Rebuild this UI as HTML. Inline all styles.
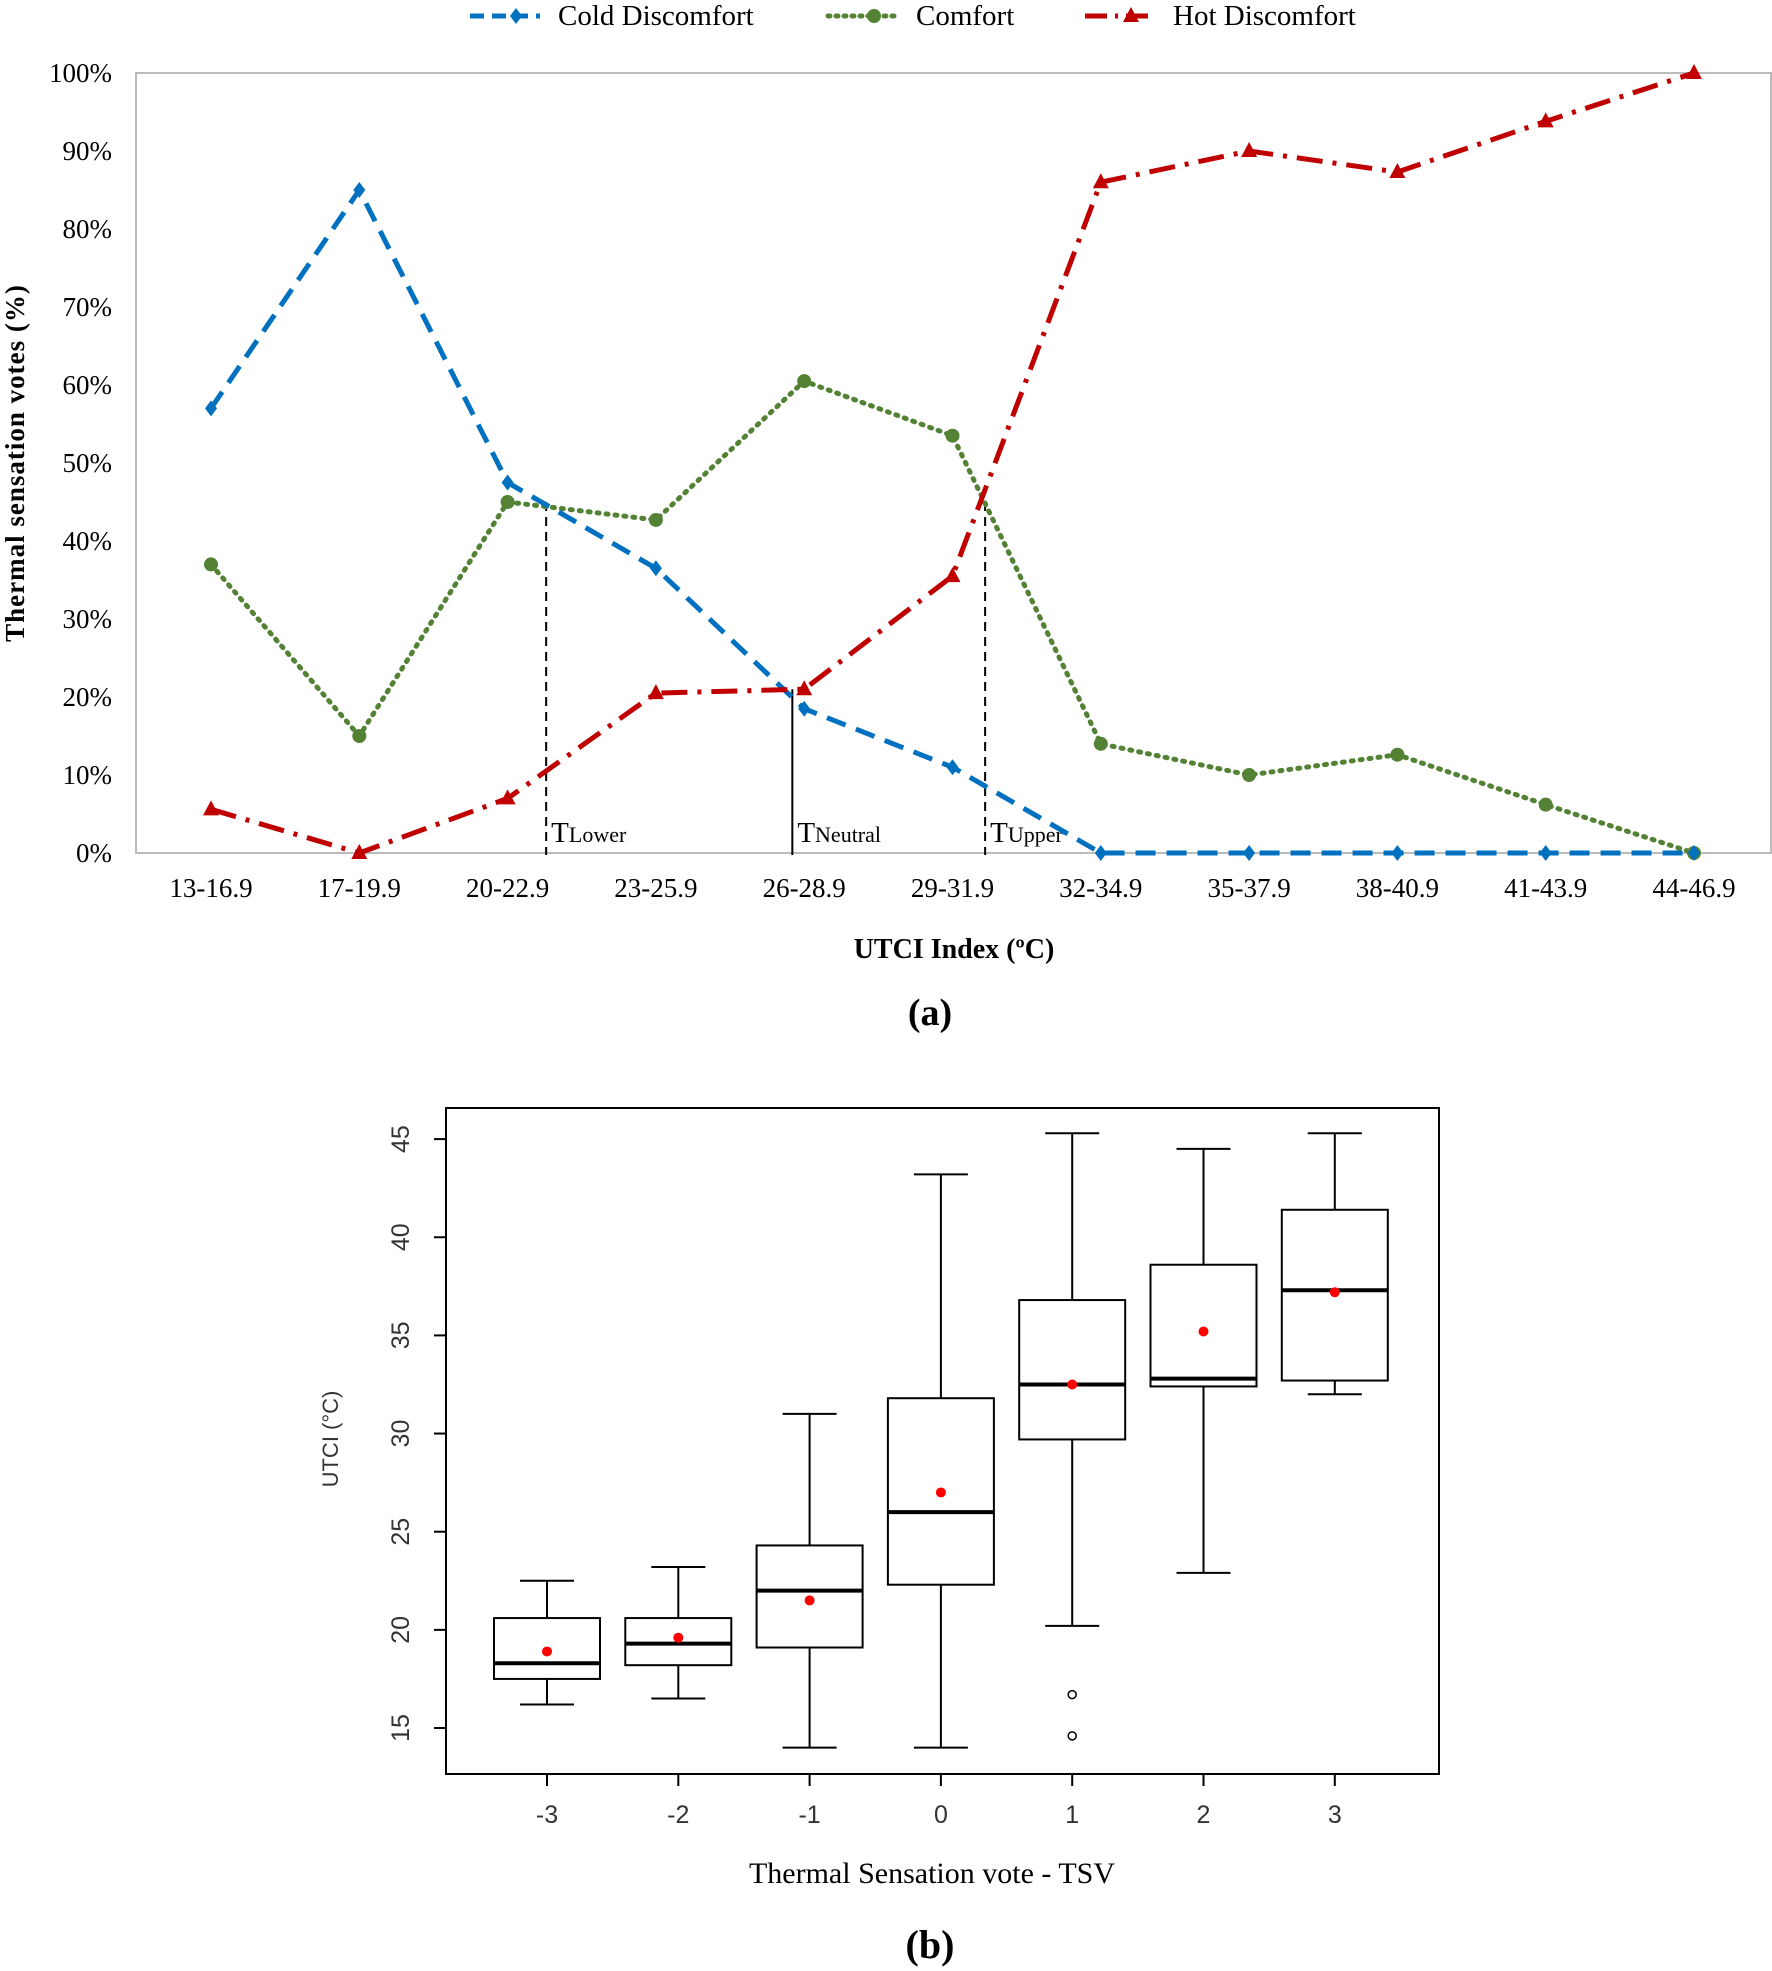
<!DOCTYPE html>
<html><head><meta charset="utf-8"><style>
html,body{margin:0;padding:0;background:#fff;}
svg{display:block;font-family:"Liberation Serif",serif;}
</style></head><body>
<svg id="fig" width="1772" height="1971" viewBox="0 0 1772 1971" xmlns="http://www.w3.org/2000/svg">
<g id="chartA"></g>
<g id="chartB"></g>
</svg>
<script>
// ---- Chart (a) data ----
const catsA = ["13-16.9","17-19.9","20-22.9","23-25.9","26-28.9","29-31.9","32-34.9","35-37.9","38-40.9","41-43.9","44-46.9"];
const coldVals = [57,85,47.5,36.5,18.5,11,0,0,0,0,0];
const comfortVals = [37,15,45,42.7,60.5,53.5,14,10,12.6,6.2,0];
const hotVals = [5.6,0,7,20.5,21,35.5,86,90,87.3,93.8,100];
const yTicksA = [0,10,20,30,40,50,60,70,80,90,100];
const thrPos = [2.26, 3.92, 5.22];
const thrTop = [45, 21, 45];
const thrLabel = ["Lower","Neutral","Upper"];

// ---- Chart (b) data ----
const tsvCats = ["-3","-2","-1","0","1","2","3"];
const bMin = [16.2,16.5,14,14,20.2,22.9,32];
const bQ1 = [17.5,18.2,19.1,22.3,29.7,32.4,32.7];
const bMed = [18.3,19.3,22,26,32.5,32.8,37.3];
const bQ3 = [20.6,20.6,24.3,31.8,36.8,38.6,41.4];
const bMax = [22.5,23.2,31,43.2,45.3,44.5,45.3];
const bMean = [18.9,19.6,21.5,27,32.5,35.2,37.2];
const outCat = [4,4];
const outVal = [16.7,14.6];
const yTicksB = [15,20,25,30,35,40,45];

const NS="http://www.w3.org/2000/svg";
function mk(parent,tag,attrs,text){const e=document.createElementNS(NS,tag);for(const k in attrs)e.setAttribute(k,attrs[k]);if(text!==undefined)e.textContent=text;parent.appendChild(e);return e;}

// ===== Chart A =====
const A=document.getElementById('chartA');
const axL=136, axR=1771, axT=73, axB=853;
const xA=i=>211+i*148.3;
const yA=v=>axB-(v/100)*(axB-axT);
let r=mk(A,'rect',{x:axL,y:axT,width:axR-axL,height:axB-axT,fill:'none',stroke:'#bbb','stroke-width':2});


yTicksA.forEach(v=>{
  const t=mk(A,'text',{x:112,y:yA(v)+9,'text-anchor':'end','font-size':27},v+'%');
  
  
});
catsA.forEach((c,i)=>{
  const t=mk(A,'text',{x:xA(i),y:897,'text-anchor':'middle','font-size':27},c);
  
  
});
let t=mk(A,'text',{x:954,y:958,'text-anchor':'middle','font-size':28,'font-weight':'bold'},'UTCI Index (ºC)');


t=mk(A,'text',{x:0,y:0,transform:'translate(24,463) rotate(-90)','text-anchor':'middle','font-size':27,'font-weight':'bold','letter-spacing':'1'},'Thermal sensation votes  (%)');


t=mk(A,'text',{x:930,y:1025,'text-anchor':'middle','font-size':38,'font-weight':'bold'},'(a)');



thrPos.forEach((p,k)=>{
  const x=xA(p);
  const l=mk(A,'line',{x1:x,x2:x,y1:yA(thrTop[k]),y2:axB+2,stroke:'#000','stroke-width':2,'stroke-dasharray':k===1?'none':'9,6'});
  
  
  const tx=mk(A,'text',{x:x+5,y:842,'font-size':29});
  
  
  mk(tx,'tspan',{},'T');
  mk(tx,'tspan',{'font-size':22},thrLabel[k]);
});

function series(vals,color,dash,marker,name){
  const g=mk(A,'g',{});
  
  
  const pts=vals.map((v,i)=>xA(i)+','+yA(v)).join(' ');
  mk(g,'polyline',{points:pts,fill:'none',stroke:color,'stroke-width':5,'stroke-dasharray':dash,'stroke-linecap':dash==='2,7'?'round':'butt'});
  vals.forEach((v,i)=>{
    const x=xA(i),y=yA(v);let m;
    if(marker==='diamond')m=mk(g,'polygon',{points:`${x},${y-8} ${x+6},${y} ${x},${y+8} ${x-6},${y}`,fill:color});
    else if(marker==='circle')m=mk(g,'circle',{cx:x,cy:y,r:7,fill:color});
    else m=mk(g,'polygon',{points:`${x},${y-9} ${x+8},${y+6} ${x-8},${y+6}`,fill:color});
    
    
  });
}
series(comfortVals,'#548235','2,7','circle','series-comfort');
series(coldVals,'#0070C0','20,11','diamond','series-cold-discomfort');
series(hotVals,'#C00000','26,10,4,10','triangle','series-hot-discomfort');

const leg=[['Cold Discomfort','#0070C0','14,8','diamond',470],['Comfort','#548235','2,6','circle',828],['Hot Discomfort','#C00000','22,8,3,8','triangle',1085]];
leg.forEach(([lab,c,d,m,x])=>{
  const g=mk(A,'g',{});
  
  
  mk(g,'line',{x1:x,x2:x+70,y1:16,y2:16,stroke:c,'stroke-width':5,'stroke-dasharray':d,'stroke-linecap':d==='2,6'?'round':'butt'});
  const cx=x+46,cy=16;
  if(m==='diamond')mk(g,'polygon',{points:`${cx},${cy-8} ${cx+6},${cy} ${cx},${cy+8} ${cx-6},${cy}`,fill:c});
  else if(m==='circle')mk(g,'circle',{cx:cx,cy:cy,r:7,fill:c});
  else mk(g,'polygon',{points:`${cx},${cy-9} ${cx+8},${cy+6} ${cx-8},${cy+6}`,fill:c});
  mk(g,'text',{x:x+88,y:25,'font-size':29},lab);
});

// ===== Chart B =====
const B=document.getElementById('chartB');
const bL=446,bR=1439,bT=1108,bB=1774;
const xB=i=>547+i*131.3;
const yB=v=>1728-(v-15)*19.63;
r=mk(B,'rect',{x:bL,y:bT,width:bR-bL,height:bB-bT,fill:'none',stroke:'#000','stroke-width':2});


yTicksB.forEach(v=>{
  const y=yB(v);
  mk(B,'line',{x1:bL-12,x2:bL,y1:y,y2:y,stroke:'#000','stroke-width':2});
  const tt=mk(B,'text',{x:0,y:0,transform:`translate(409,${y}) rotate(-90)`,'text-anchor':'middle','font-size':25,fill:'#333','font-family':'Liberation Sans, sans-serif'},v);
  
  
});
tsvCats.forEach((c,i)=>{
  const x=xB(i);
  mk(B,'line',{x1:x,x2:x,y1:bB,y2:bB+12,stroke:'#000','stroke-width':2});
  const tt=mk(B,'text',{x:x,y:1823,'text-anchor':'middle','font-size':25,fill:'#333','font-family':'Liberation Sans, sans-serif'},c);
  
  
  const g=mk(B,'g',{stroke:'#000','stroke-width':2,fill:'none'});
  
  
  const hw=53,cw=27;
  mk(g,'line',{x1:x,x2:x,y1:yB(bMax[i]),y2:yB(bQ3[i])});
  mk(g,'line',{x1:x,x2:x,y1:yB(bQ1[i]),y2:yB(bMin[i])});
  mk(g,'line',{x1:x-cw,x2:x+cw,y1:yB(bMax[i]),y2:yB(bMax[i])});
  mk(g,'line',{x1:x-cw,x2:x+cw,y1:yB(bMin[i]),y2:yB(bMin[i])});
  mk(g,'rect',{x:x-hw,y:yB(bQ3[i]),width:2*hw,height:yB(bQ1[i])-yB(bQ3[i])});
  mk(g,'line',{x1:x-hw,x2:x+hw,y1:yB(bMed[i]),y2:yB(bMed[i]),'stroke-width':4});
  const mm=mk(B,'circle',{cx:x,cy:yB(bMean[i]),r:5,fill:'#f00'});
  
  
});
outVal.forEach((v,k)=>{
  const o=mk(B,'circle',{cx:xB(outCat[k]),cy:yB(v),r:4,fill:'none',stroke:'#000','stroke-width':1.5});
  
  
});
t=mk(B,'text',{x:0,y:0,transform:'translate(338,1439) rotate(-90)','text-anchor':'middle','font-size':22,fill:'#333','font-family':'Liberation Sans, sans-serif'},'UTCI (°C)');


t=mk(B,'text',{x:932,y:1883,'text-anchor':'middle','font-size':30},'Thermal Sensation vote - TSV');


t=mk(B,'text',{x:930,y:1958,'text-anchor':'middle','font-size':40,'font-weight':'bold'},'(b)');


</script>
</body></html>
